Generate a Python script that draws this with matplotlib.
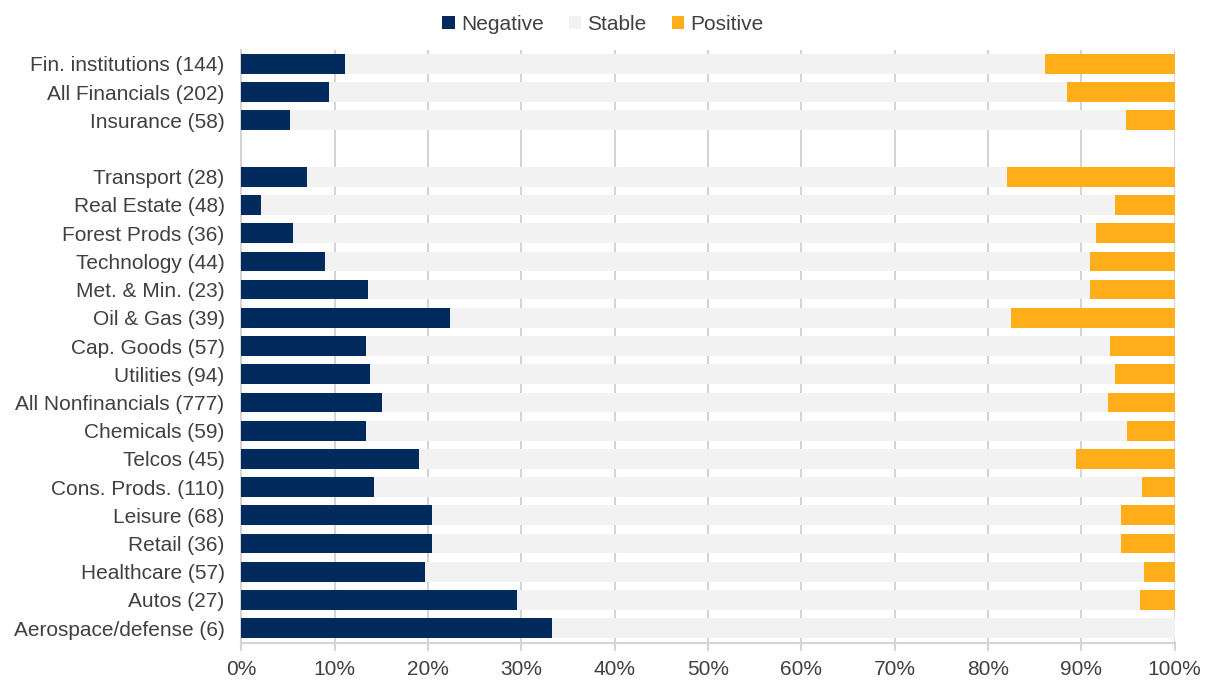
import matplotlib
matplotlib.use("Agg")
import matplotlib.pyplot as plt
import numpy as np

plt.rcParams["font.family"] = ["Liberation Sans", "DejaVu Sans"]

# rows top to bottom; None marks the spacer row between financials and nonfinancials
categories = [
    "Fin. institutions (144)", "All Financials (202)", "Insurance (58)", None,
    "Transport (28)", "Real Estate (48)", "Forest Prods (36)", "Technology (44)",
    "Met. & Min. (23)", "Oil & Gas (39)", "Cap. Goods (57)", "Utilities (94)",
    "All Nonfinancials (777)", "Chemicals (59)", "Telcos (45)", "Cons. Prods. (110)",
    "Leisure (68)", "Retail (36)", "Healthcare (57)", "Autos (27)", "Aerospace/defense (6)",
]
negative = [11.1, 9.4, 5.2, None, 7.1, 2.1, 5.5, 9.0, 13.6, 22.4, 13.4, 13.8,
            15.1, 13.4, 19.1, 14.2, 20.4, 20.4, 19.7, 29.6, 33.3]
positive = [13.9, 11.5, 5.2, None, 18.0, 6.4, 8.4, 9.1, 9.1, 17.5, 6.9, 6.4,
            7.1, 5.1, 10.6, 3.5, 5.8, 5.8, 3.3, 3.7, 0.0]

c_neg = "#002B5C"
c_stable = "#F2F2F2"
c_pos = "#FFAE1A"
c_text = "#404040"

fig = plt.figure(figsize=(12.06, 6.82), dpi=100)
ax = fig.add_axes([0.2, 0.057, 0.774, 0.87])

ys = [i for i, c in enumerate(categories) if c is not None]
neg = np.array([negative[i] for i in ys])
pos = np.array([positive[i] for i in ys])
stable = 100 - neg - pos

h = 0.7
ax.barh(ys, neg, height=h, color=c_neg, label="Negative", zorder=3)
ax.barh(ys, stable, left=neg, height=h, color=c_stable, label="Stable", zorder=3)
ax.barh(ys, pos, left=neg + stable, height=h, color=c_pos, label="Positive", zorder=3)

ax.set_ylim(len(categories) - 0.47, -0.5)
ax.set_yticks(ys)
ax.set_yticklabels([categories[i] for i in ys])
ax.set_xlim(0, 100)
ax.set_xticks(np.arange(0, 101, 10))
ax.set_xticklabels([f"{v}%" for v in range(0, 101, 10)])
ax.grid(axis="x", color="#D4D4D4", linewidth=1.5, zorder=0)

for s in ["top", "right"]:
    ax.spines[s].set_visible(False)
ax.spines["left"].set_color("#D4D4D4")
ax.spines["bottom"].set_color("#D4D4D4")
ax.spines["left"].set_linewidth(1.5)
ax.spines["bottom"].set_linewidth(1.5)
ax.tick_params(axis="y", length=0, labelsize=15, colors=c_text, pad=12)
ax.tick_params(axis="x", length=6, width=1.5, color="#D4D4D4", labelsize=15,
               labelcolor=c_text, pad=6)

fig.legend(loc="upper center", bbox_to_anchor=(0.5, 1.006), ncol=3, frameon=False,
           fontsize=15, handlelength=0.6, handleheight=0.6, handletextpad=0.3,
           columnspacing=1.2, labelcolor=c_text)

fig.savefig("out.png", dpi=100)
